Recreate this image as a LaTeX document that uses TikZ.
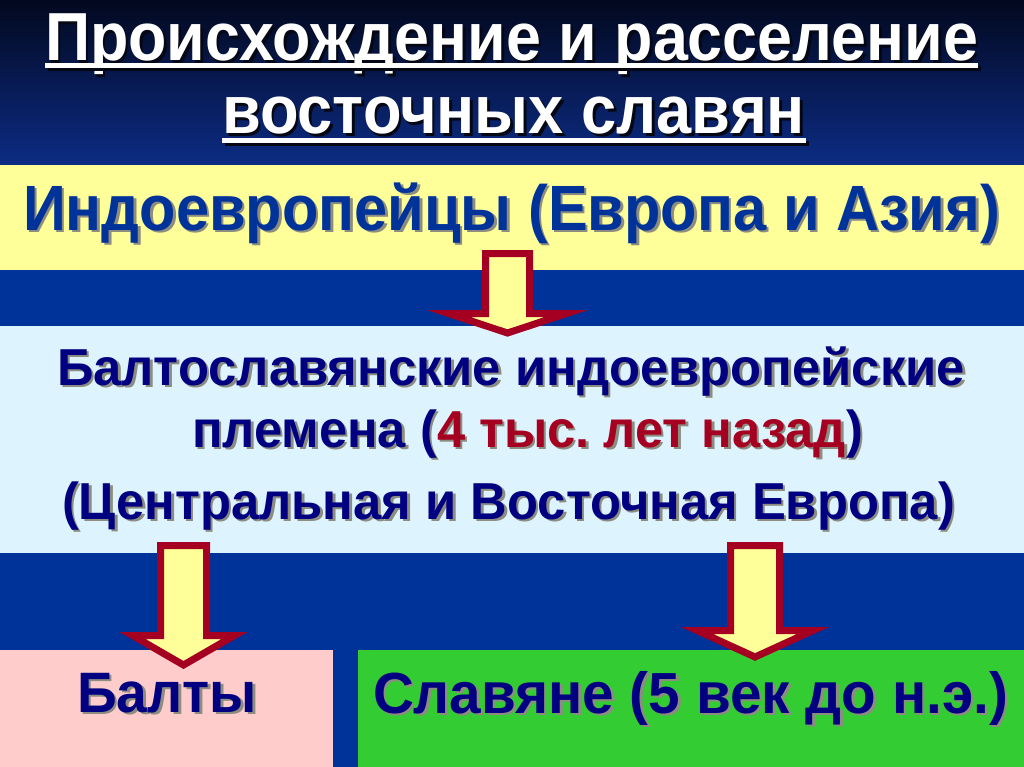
\documentclass[tikz,border=0pt]{standalone}
\usepackage{fontspec}
\setmainfont{Liberation Sans}
\usepackage{graphicx}
\frenchspacing
\definecolor{slideblue}{HTML}{003399}
\definecolor{titletop}{HTML}{02081F}
\definecolor{titlebot}{HTML}{0C2C84}
\definecolor{bandyellow}{HTML}{FFFF99}
\definecolor{bandcyan}{HTML}{DDF4FF}
\definecolor{boxpink}{HTML}{FFCCCC}
\definecolor{boxgreen}{HTML}{33CC33}
\definecolor{arrowred}{HTML}{A50021}
\definecolor{txtblue}{HTML}{003399}
\definecolor{txtnavy}{HTML}{000080}
\definecolor{txtred}{HTML}{A50021}
\definecolor{shadowdark}{HTML}{050814}
\definecolor{shadowgray}{HTML}{8C8C80}
\newcommand{\fitw}[3]{\resizebox{#1}{\height}{\fontsize{#2}{#2}\selectfont\bfseries #3}}
\newcommand{\hlr}[1]{{\color{txtred}#1}}
% name, x, baseline y, width, size, colour, shadow colour, text
\newcommand{\ptext}[8]{%
  \node[txt,text=#6] (#1) at (#2,#3) {\makebox[0pt][l]{\hspace{2.5pt}\raisebox{-2.5pt}{\let\hlr\relax\color{#7}\fitw{#4}{#5}{#8}}}\fitw{#4}{#5}{#8}};}
\newcommand{\blockarrow}[7]{% name, cx, top, headbase, tip, shaft hw, head hw
  \coordinate (#1) at (#2,#5);
  \draw[barrow] (#2-#6,#3) -- (#2+#6,#3) -- (#2+#6,#4) -- (#2+#7,#4) -- (#1)
     -- (#2-#7,#4) -- (#2-#6,#4) -- cycle;}
\begin{document}
\begin{tikzpicture}[x=1pt,y=-1pt,
  txt/.style={anchor=base west,inner sep=0pt,outer sep=0pt},
  barrow/.style={draw=arrowred,fill=bandyellow,line width=7pt,line join=miter}]
\useasboundingbox (0,0) rectangle (1024,767);
% background
\fill[slideblue] (0,0) rectangle (1024,767);
\shade[top color=titletop,bottom color=titlebot,shading angle=0] (0,0) rectangle (1024,165);
% bands
\fill[bandyellow] (0,165) rectangle (1024,270);
\fill[bandcyan] (0,326) rectangle (1024,553);
\fill[boxpink] (0,650) rectangle (333,767);
\fill[boxgreen] (358,650) rectangle (1024,767);
% title
\ptext{t1}{45}{61}{933pt}{68}{white}{shadowdark}{Происхождение и расселение}
\ptext{t2}{222}{134}{583pt}{68}{white}{shadowdark}{восточных славян}
\fill[shadowdark] (47.5,66) rectangle (980.5,71);
\fill[white] (45,63.5) rectangle (978,68.5);
\fill[shadowdark] (224.5,141) rectangle (808.5,146);
\fill[white] (222,138.5) rectangle (806,143.5);
% arrows
\blockarrow{a1}{507.5}{253.5}{313.5}{333}{22}{59}
\blockarrow{a2}{183.5}{545.5}{635.5}{665}{23}{51}
\blockarrow{a3}{755}{545.5}{630.5}{657}{24.5}{58}
% texts
\ptext{ie}{23}{230}{977pt}{64}{txtblue}{shadowgray}{Индоевропейцы (Европа и Азия)}
\ptext{bs1}{57}{385}{908pt}{52}{txtnavy}{shadowgray}{Балтославянские индоевропейские}
\ptext{bs2}{192}{447}{671pt}{52}{txtnavy}{shadowgray}{племена (\hlr{4 тыс. лет назад})}
\ptext{bs3}{62}{519}{893pt}{52}{txtnavy}{shadowgray}{(Центральная и Восточная Европа)}
\ptext{balt}{77}{712}{180pt}{57}{txtnavy}{shadowgray}{Балты}
\ptext{slav}{373}{713}{635pt}{58}{txtnavy}{shadowgray}{Славяне (5 век до н.э.)}
\end{tikzpicture}
\end{document}
